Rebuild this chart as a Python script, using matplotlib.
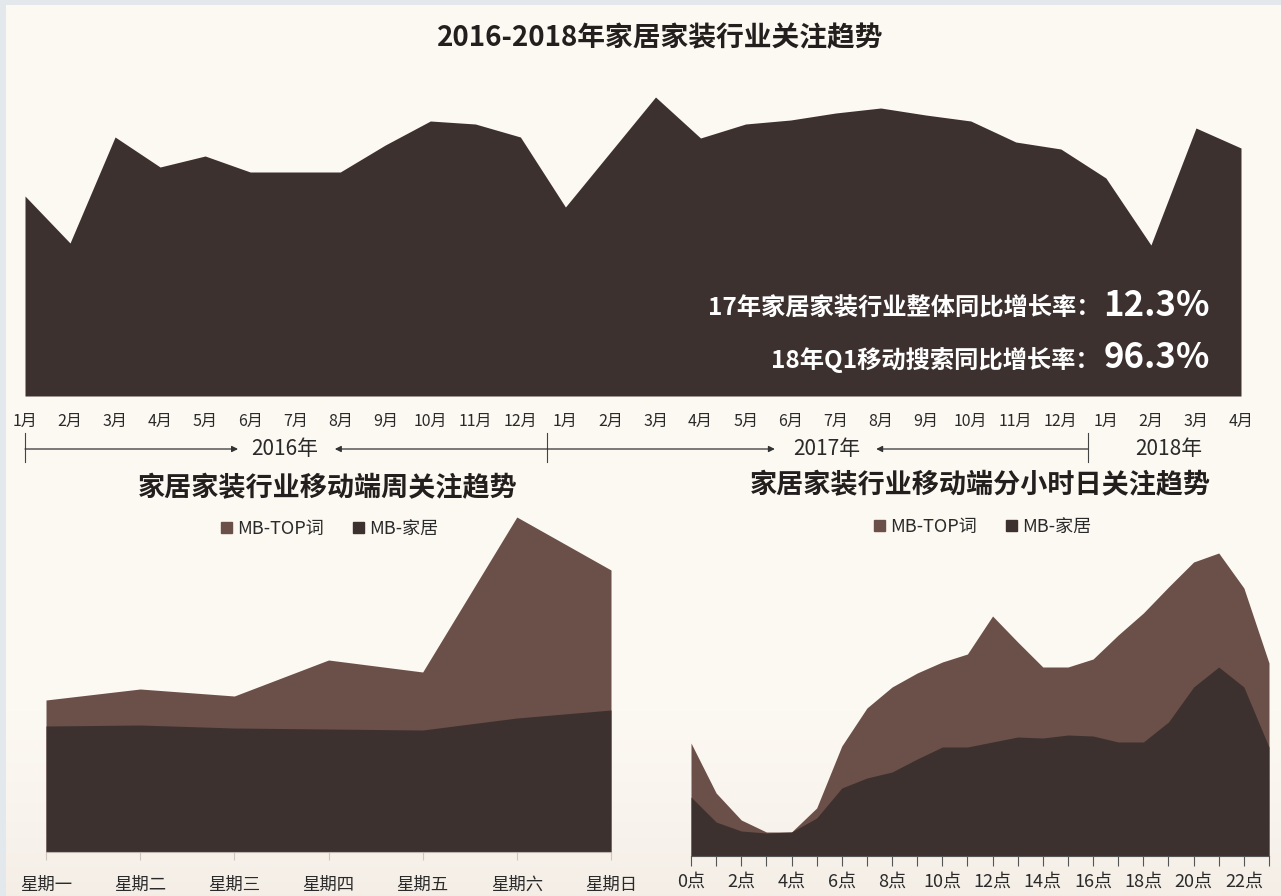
import numpy as np
import matplotlib.pyplot as plt
import matplotlib.transforms as mtrans
from matplotlib.patches import Patch, Rectangle

plt.rcParams['font.family'] = ['Noto Sans CJK SC', 'DejaVu Sans']

# 2016.1 - 2018.4 月度关注趋势
months = ['1月', '2月', '3月', '4月', '5月', '6月', '7月', '8月', '9月', '10月', '11月', '12月'] * 2 \
    + ['1月', '2月', '3月', '4月']
trend = [200, 153, 259, 229, 240, 224, 224, 224, 251, 275, 272, 259,
         189, 244, 299, 258, 272, 276, 283, 288, 281, 275, 254, 247,
         218, 151, 268, 248]
years = ['2016年', '2017年', '2018年']

# 周关注趋势
weekdays = ['星期一', '星期二', '星期三', '星期四', '星期五', '星期六', '星期日']
week_top = [152, 163, 156, 192, 180, 335, 282]
week_home = [126, 127, 124, 123, 122, 134, 142]

# 分小时关注趋势
hours = ['0点', '1点', '2点', '3点', '4点', '5点', '6点', '7点', '8点', '9点', '10点', '11点',
         '12点', '13点', '14点', '15点', '16点', '17点', '18点', '19点', '20点', '21点', '22点', '23点']
hour_top = [113, 63, 36, 24, 24, 48, 110, 148, 169, 183, 194, 202,
            240, 214, 189, 189, 197, 221, 243, 269, 294, 303, 268, 193]
hour_home = [59, 34, 25, 23, 24, 38, 68, 78, 84, 97, 109, 109,
             114, 119, 118, 121, 120, 114, 114, 134, 169, 189, 169, 109]

series_names = ['MB-TOP词', 'MB-家居']

dark = '#3d3130'
brown = '#6b5049'
bgc = '#fcf8f2'
W, H = 1281, 896


def px(l, t, r, b):
    return [l / W, 1 - b / H, (r - l) / W, (b - t) / H]


fig = plt.figure(figsize=(W / 100, H / 100), dpi=100, facecolor=bgc)

# 背景层, 像素坐标
bg = fig.add_axes([0, 0, 1, 1], zorder=-1)
bg.set_xlim(0, W)
bg.set_ylim(H, 0)
bg.axis('off')
bg.add_patch(Rectangle((0, 0), W, 5, color='#e3e8ec', lw=0))
bg.add_patch(Rectangle((0, 0), 6, H, color='#e3e8ec', lw=0))
grad = np.linspace(0, 1, 100).reshape(-1, 1) ** 1.5
bg.imshow(np.dstack([np.full_like(grad, 0.90), np.full_like(grad, 0.86), np.full_like(grad, 0.82), grad * 0.35]),
          extent=(6, W, H, 700), aspect='auto', zorder=0)

bg.text(660, 38, '2016-2018年家居家装行业关注趋势', ha='center', va='center',
        fontsize=20, fontweight='bold', color='#231f1e')

# 顶部面积图
ax = fig.add_axes(px(25, 96, 1241, 396), facecolor='none')
x = np.arange(len(trend))
ax.fill_between(x, 0, trend, color=dark, lw=0)
ax.set_xlim(0, len(trend) - 1)
ax.set_ylim(0, 300)
ax.set_yticks([])
ax.set_xticks(x)
ax.set_xticklabels(months, fontsize=11.5, color='#2a2a2a')
ax.tick_params(axis='x', length=0, pad=12)
for s in ax.spines.values():
    s.set_visible(False)

ax.text(1100, 309, '17年家居家装行业整体同比增长率：', transform=bg.transData, ha='right', va='center',
        fontsize=17.5, fontweight='bold', color='white')
ax.text(1210, 306, '12.3%', transform=bg.transData, ha='right', va='center',
        fontsize=25, fontweight='bold', color='white')
ax.text(1100, 360, '18年Q1移动搜索同比增长率：', transform=bg.transData, ha='right', va='center',
        fontsize=17.5, fontweight='bold', color='white')
ax.text(1210, 357, '96.3%', transform=bg.transData, ha='right', va='center',
        fontsize=25, fontweight='bold', color='white')

# 年份标尺
tr = mtrans.blended_transform_factory(ax.transData, bg.transData)
for d in [0, 11.6, 23.6]:
    ax.plot([d, d], [433, 462], transform=tr, color='#444444', lw=0.8, clip_on=False)
arrow = dict(arrowstyle='-|>', color='#333333', lw=0.9, shrinkA=0, shrinkB=0, mutation_scale=9)
for a, b in [(0, 4.73), (11.6, 6.88), (11.6, 16.65), (23.6, 18.9)]:
    ax.annotate('', xy=(b, 449), xytext=(a, 449), xycoords=tr, textcoords=tr, arrowprops=arrow,
                annotation_clip=False)
for pos, yr in zip([5.77, 17.8, 25.4], years):
    ax.text(pos, 449, yr, transform=tr, ha='center', va='center', fontsize=15, color='#2a2a2a')


def legend(axx, cx, cy):
    handles = [Patch(color=brown), Patch(color=dark)]
    axx.legend(handles, series_names, loc='center', bbox_to_anchor=(cx, cy),
               bbox_transform=bg.transData, ncol=2, frameon=False, fontsize=13,
               handlelength=0.6, handleheight=0.6, handletextpad=0.3, columnspacing=1.6,
               labelcolor='#2a2a2a')


# 周关注趋势
ax2 = fig.add_axes(px(46, 512, 611, 852), facecolor='none')
xw = np.arange(len(weekdays))
ax2.fill_between(xw, 0, week_top, color=brown, lw=0)
ax2.fill_between(xw, 0, week_home, color=dark, lw=0)
ax2.set_xlim(0, len(weekdays) - 1)
ax2.set_ylim(0, 340)
ax2.set_yticks([])
ax2.set_xticks(xw)
ax2.set_xticklabels(weekdays, fontsize=12.5, color='#2a2a2a')
ax2.tick_params(axis='x', length=6, color='#cfc6c0', pad=11)
for s in ['top', 'left', 'right']:
    ax2.spines[s].set_visible(False)
ax2.spines['bottom'].set_color('#bdb3ad')
bg.text(328, 488, '家居家装行业移动端周关注趋势', ha='center', va='center',
        fontsize=19.5, fontweight='bold', color='#231f1e')
legend(ax2, 330, 529)

# 分小时关注趋势
ax3 = fig.add_axes(px(691, 546, 1269, 856), facecolor='none')
xh = np.arange(len(hours))
ax3.fill_between(xh, 0, hour_top, color=brown, lw=0)
ax3.fill_between(xh, 0, hour_home, color=dark, lw=0)
ax3.set_xlim(0, len(hours) - 1)
ax3.set_ylim(0, 310)
ax3.set_yticks([])
ax3.set_xticks(xh)
ax3.set_xticklabels([h if i % 2 == 0 else '' for i, h in enumerate(hours)], fontsize=13, color='#2a2a2a')
ax3.tick_params(axis='x', length=7, color='#555555', pad=5)
for s in ['top', 'left', 'right']:
    ax3.spines[s].set_visible(False)
ax3.spines['bottom'].set_color('#555555')
bg.text(980, 485, '家居家装行业移动端分小时日关注趋势', ha='center', va='center',
        fontsize=19.5, fontweight='bold', color='#231f1e')
legend(ax3, 983, 527)

fig.savefig('out.png', dpi=100, facecolor=bgc)
